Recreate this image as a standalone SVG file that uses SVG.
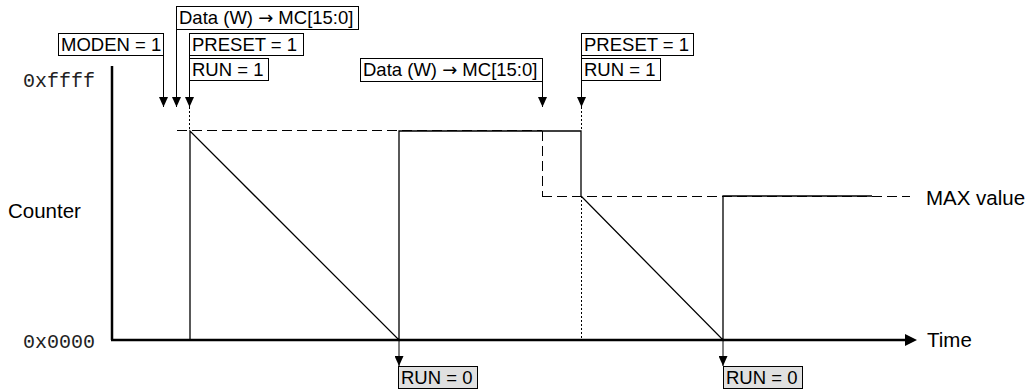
<svg xmlns="http://www.w3.org/2000/svg" width="1033" height="392" viewBox="0 0 1033 392">
<defs>
<style>
.lbl{font-family:"Liberation Sans",Arial,sans-serif;font-size:18.5px;fill:#000}
.arr{font-family:"DejaVu Sans",sans-serif;font-size:18px}
.big{font-family:"Liberation Sans",Arial,sans-serif;font-size:20.5px;fill:#000}
.mono{font-family:"Liberation Mono","Courier New",monospace;font-size:20px;fill:#222}
.box{fill:#fff;stroke:#000;stroke-width:1}
.gbox{fill:#e0e0e0;stroke:#000;stroke-width:1}
.ln{fill:none;stroke:#000;stroke-width:1.3}
.dash{fill:none;stroke:#000;stroke-width:1;stroke-dasharray:10 5}
.dot{fill:none;stroke:#000;stroke-width:1;stroke-dasharray:2 2}
.axis{fill:none;stroke:#000;stroke-width:2.5}
.ptr{fill:none;stroke:#000;stroke-width:1}
</style>
<marker id="ah" viewBox="0 0 10 9" refX="10" refY="4.5" markerWidth="10" markerHeight="9" markerUnits="userSpaceOnUse" orient="auto">
<path d="M0,0 L10,4.5 L0,9 Z" fill="#000"/>
</marker>
</defs>

<g id="axes">
<line class="axis" x1="112" y1="66" x2="112" y2="340"/>
<line class="axis" x1="111" y1="340" x2="906" y2="340"/>
<path d="M905,334 L917,340 L905,346 Z" fill="#000"/>
<text class="mono" x="23" y="87">0xffff</text>
<text class="mono" x="23" y="348">0x0000</text>
<text class="big" x="8" y="218">Counter</text>
<text class="big" x="927" y="347">Time</text>
<text class="big" x="926" y="205">MAX value</text>
</g>

<g id="connectors">
<line class="dash" x1="177" y1="130.5" x2="542" y2="130.5"/>
<line class="dash" x1="542.5" y1="131" x2="542.5" y2="196"/>
<line class="dash" x1="542" y1="196.5" x2="910" y2="196.5"/>
<line class="dot" x1="189.5" y1="107" x2="189.5" y2="131"/>
<line class="dot" x1="581.5" y1="107" x2="581.5" y2="131"/>
<line class="dot" x1="581.5" y1="196" x2="581.5" y2="340"/>
<polyline class="ln" points="190,340 190,131 399,340 399,131 581,131 581,196 723,340 723,196 872,196"/>
<line class="ptr" x1="163.5" y1="55" x2="163.5" y2="107" marker-end="url(#ah)"/>
<line class="ptr" x1="176.5" y1="29" x2="176.5" y2="107" marker-end="url(#ah)"/>
<line class="ptr" x1="189.5" y1="55" x2="189.5" y2="107" marker-end="url(#ah)"/>
<line class="ptr" x1="542.5" y1="82" x2="542.5" y2="107" marker-end="url(#ah)"/>
<line class="ptr" x1="581.5" y1="55" x2="581.5" y2="107" marker-end="url(#ah)"/>
<line class="ptr" x1="399" y1="340" x2="399" y2="366" marker-end="url(#ah)"/>
<line class="ptr" x1="723" y1="340" x2="723" y2="366" marker-end="url(#ah)"/>
</g>

<g id="moden1">
<rect class="box" x="58.5" y="33.5" width="105" height="22"/>
<text class="lbl" x="61" y="51">MODEN = 1</text>
</g>
<g id="data1">
<rect class="box" x="176.5" y="6.5" width="182" height="23"/>
<text class="lbl" x="179" y="24">Data (W) <tspan class="arr">→</tspan> MC[15:0]</text>
</g>
<g id="preset1">
<rect class="box" x="189.5" y="33.5" width="114" height="22"/>
<text class="lbl" x="192" y="51">PRESET = 1</text>
</g>
<g id="run1">
<rect class="box" x="189.5" y="58.5" width="79" height="22"/>
<text class="lbl" x="192" y="76">RUN = 1</text>
</g>
<g id="data2">
<rect class="box" x="360.5" y="58.5" width="182" height="23"/>
<text class="lbl" x="363" y="76">Data (W) <tspan class="arr">→</tspan> MC[15:0]</text>
</g>
<g id="preset2">
<rect class="box" x="581.5" y="33.5" width="112" height="22"/>
<text class="lbl" x="584" y="51">PRESET = 1</text>
</g>
<g id="run2">
<rect class="box" x="581.5" y="58.5" width="79" height="22"/>
<text class="lbl" x="584" y="76">RUN = 1</text>
</g>
<g id="run0a">
<rect class="gbox" x="398.5" y="366.5" width="79" height="22"/>
<text class="lbl" x="401" y="384">RUN = 0</text>
</g>
<g id="run0b">
<rect class="gbox" x="723.5" y="366.5" width="79" height="22"/>
<text class="lbl" x="726" y="384">RUN = 0</text>
</g>
</svg>
